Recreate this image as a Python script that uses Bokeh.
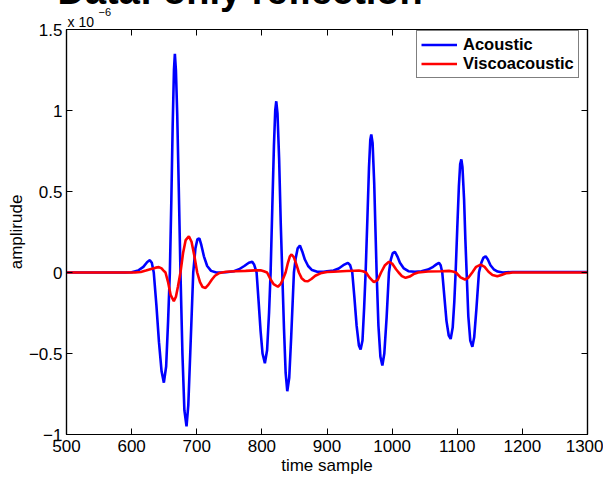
from bokeh.plotting import figure
from bokeh.models import (Range1d, FixedTicker, LinearAxis, Legend, LegendItem, Title)
from bokeh.embed import file_html
from bokeh.resources import INLINE

# ---- data (amplitude in units of 1e-6) ----
acoustic_t = [500, 590, 600, 610, 618, 624, 628, 631, 634, 638, 642, 646, 649.5, 653, 656, 658.7,
              661, 663, 665, 666.4, 668, 670, 672.5, 675, 678, 681, 684.3, 687, 690, 694.6, 698, 701,
              704, 707, 711, 716, 722, 730, 745, 757, 765, 773, 780, 785.2, 788, 791.9, 795, 798, 801,
              804.6, 808, 811, 813.4, 816, 818.5, 820.5, 822.1, 824, 826.5, 829, 831.3, 834, 836.5,
              839, 842, 845, 849.2, 852, 855, 858.4, 862, 866, 871, 877, 885, 895, 900, 910, 918, 925,
              932.1, 935.5, 938.8, 942, 945.5, 949, 951.6, 954.5, 957, 959.3, 962, 964.5, 966.5, 968,
              970, 972.5, 974.5, 976.2, 979, 982, 985, 988, 991.5, 995.1, 998, 1001, 1004.3, 1008,
              1012, 1018, 1025, 1035, 1045, 1055, 1063, 1068, 1071.9, 1074.5, 1077, 1080, 1083.5,
              1087, 1089.9, 1093, 1095.5, 1097.5, 1100, 1102.5, 1104.5, 1106.3, 1108, 1110.5, 1112.5,
              1114.4, 1117, 1120, 1123.2, 1126, 1129.5, 1133.3, 1137, 1140, 1143.6, 1147, 1151, 1156,
              1162, 1170, 1185, 1300]
acoustic_v = [0, 0, 0.002, 0.012, 0.035, 0.065, 0.076, 0.06, 0.0, -0.2, -0.43, -0.61, -0.68, -0.58,
              -0.3, 0.0, 0.45, 0.9, 1.25, 1.35, 1.25, 0.98, 0.5, 0.0, -0.5, -0.85, -0.95, -0.82, -0.5,
              0.0, 0.15, 0.205, 0.21, 0.17, 0.1, 0.04, 0.01, 0.0, 0.002, 0.008, 0.02, 0.04, 0.06, 0.066,
              0.05, 0.0, -0.18, -0.36, -0.5, -0.56, -0.48, -0.25, 0.0, 0.4, 0.78, 1.0, 1.057, 0.98, 0.7,
              0.3, 0.0, -0.35, -0.62, -0.733, -0.65, -0.4, 0.0, 0.09, 0.15, 0.167, 0.13, 0.08, 0.04,
              0.015, 0.005, 0.005, 0.008, 0.012, 0.025, 0.045, 0.06, 0.045, 0.0, -0.15, -0.33, -0.45,
              -0.475, -0.42, -0.22, 0.0, 0.33, 0.65, 0.82, 0.852, 0.8, 0.55, 0.25, 0.0, -0.33, -0.52,
              -0.574, -0.5, -0.28, 0.0, 0.08, 0.12, 0.128, 0.1, 0.06, 0.025, 0.008, 0.005, 0.008,
              0.018, 0.035, 0.05, 0.06, 0.045, 0.0, -0.14, -0.3, -0.39, -0.41, -0.34, -0.18, 0.0, 0.27,
              0.53, 0.67, 0.698, 0.65, 0.45, 0.2, 0.0, -0.27, -0.42, -0.459, -0.4, -0.22, 0.0, 0.06,
              0.09, 0.10, 0.08, 0.045, 0.02, 0.006, 0.0, 0.003, 0.003]

visco_t = [500, 605, 614, 622, 630, 637, 641.8, 646, 649, 652, 656, 660, 664.8, 668, 671, 675, 679,
           683, 687.9, 692, 696, 700.7, 705, 709, 713.5, 718, 723, 728, 735, 745, 760, 775, 790, 798,
           803, 808, 813, 818, 824.6, 829, 832, 836.4, 840, 843, 845.6, 849, 853, 856.8, 861, 866,
           870.7, 876, 882, 890, 900, 910, 930, 942, 949, 955, 960, 965, 972, 978, 983, 989, 995.1,
           1000, 1006, 1010, 1015, 1020.7, 1027, 1033, 1040, 1055, 1075, 1087.3, 1093, 1098, 1105,
           1111.8, 1117, 1123, 1129, 1135.9, 1142, 1148, 1154, 1161.5, 1168, 1175, 1185, 1300]
visco_v = [0, 0, 0.003, 0.012, 0.022, 0.03, 0.033, 0.025, 0.012, 0.0, -0.06, -0.14, -0.177, -0.15,
           -0.09, 0.0, 0.12, 0.2, 0.224, 0.19, 0.11, 0.0, -0.06, -0.09, -0.095, -0.075, -0.045, -0.02,
           -0.003, 0.005, 0.008, 0.01, 0.013, 0.014, 0.008, 0.0, -0.04, -0.072, -0.088, -0.07, -0.045,
           0.0, 0.06, 0.1, 0.111, 0.095, 0.05, 0.0, -0.035, -0.052, -0.054, -0.04, -0.02, -0.005,
           0.003, 0.005, 0.009, 0.011, 0.012, 0.008, 0.0, -0.03, -0.06, -0.045, 0.0, 0.045, 0.066,
           0.055, 0.02, 0.0, -0.022, -0.033, -0.025, -0.01, 0.0, 0.006, 0.008, 0.01, 0.006, 0.0,
           -0.03, -0.043, -0.033, 0.0, 0.035, 0.049, 0.035, 0.005, -0.015, -0.023, -0.015, -0.005,
           0.0, 0.0]

x_ticks = [500, 600, 700, 800, 900, 1000, 1100, 1200, 1300]
y_ticks = [-1, -0.5, 0, 0.5, 1, 1.5]
y_tick_labels = ["\u22121", "\u22120.5", "0", "0.5", "1", "1.5"]
series_names = ["Acoustic", "Viscoacoustic"]
title_text = "Data: only reflection"
exp_base = "x 10"
exp_power = "\u22126"

FONT = "Liberation Sans"
TITLE_DROP = 4
SHIFT = 35 - TITLE_DROP  # part of the canvas pushed above the window (title is cut off there)

p = figure(output_backend="svg", toolbar_location=None,
           x_range=Range1d(500, 1300), y_range=Range1d(-1, 1.5),
           frame_width=521, frame_height=405,
           min_border_left=66, min_border_right=16, min_border_top=0, min_border_bottom=42,
           x_axis_location=None, y_axis_location=None)
p.margin = (-SHIFT, 0, 0, 0)
p.grid.visible = False
p.outline_line_color = "black"
p.outline_line_width = 1.2
p.background_fill_color = "white"
p.border_fill_color = "white"

def style_axis(ax, labels=True):
    ax.major_tick_in = 6
    ax.major_tick_out = 0
    ax.minor_tick_in = 0
    ax.minor_tick_out = 0
    ax.axis_line_color = "black"
    ax.axis_line_width = 1.2
    ax.major_tick_line_color = "black"
    ax.major_tick_line_width = 1
    ax.major_label_text_font = FONT
    ax.major_label_text_font_size = "17px"
    ax.major_label_text_color = "black"
    ax.axis_label_text_font = FONT
    ax.axis_label_text_font_size = "17px"
    ax.axis_label_text_font_style = "normal"
    ax.axis_label_text_color = "black"
    if not labels:
        ax.major_label_text_font_size = "1px"
        ax.major_label_text_color = None
        ax.major_label_standoff = 0

xb = LinearAxis(ticker=FixedTicker(ticks=x_ticks), axis_label="time sample")
style_axis(xb)
xb.major_label_standoff = 5
xb.axis_label_standoff = 1
p.add_layout(xb, "below")

yl = LinearAxis(ticker=FixedTicker(ticks=y_ticks), axis_label="amplirude")
style_axis(yl)
yl.major_label_overrides = {t: s for t, s in zip(y_ticks, y_tick_labels)}
yl.major_label_standoff = 4
yl.axis_label_standoff = 0
p.add_layout(yl, "left")

xt = LinearAxis(ticker=FixedTicker(ticks=x_ticks))
style_axis(xt, labels=False)
p.add_layout(xt, "above")

yr = LinearAxis(ticker=FixedTicker(ticks=y_ticks))
style_axis(yr, labels=False)
p.add_layout(yr, "right")

t_base = Title(text=exp_base, align="left", offset=1, standoff=0,
               text_font=FONT, text_font_size="14px", text_font_style="normal", text_color="black")
t_pow = Title(text=exp_power, align="left", offset=32, standoff=-8,
              text_font=FONT, text_font_size="11px", text_font_style="normal", text_color="black")
t_main = Title(text=title_text, align="left", offset=-9, standoff=-TITLE_DROP,
               text_font=FONT, text_font_size="38px", text_font_style="bold", text_color="black")
p.add_layout(t_base, "above")
p.add_layout(t_pow, "above")
p.add_layout(t_main, "above")

r1 = p.line(acoustic_t, acoustic_v, line_color="#0000ff", line_width=2.6)
r2 = p.line(visco_t, visco_v, line_color="#ff0000", line_width=2.6)

legend = Legend(items=[LegendItem(label=series_names[0], renderers=[r1]),
                       LegendItem(label=series_names[1], renderers=[r2])],
                location=(350, 356), orientation="vertical",
                label_text_font=FONT, label_text_font_size="16.5px", label_text_font_style="bold",
                label_text_color="black",
                glyph_width=36, glyph_height=19, label_height=19, label_standoff=6,
                padding=4, spacing=0, margin=0,
                border_line_color="black", border_line_width=1.2,
                background_fill_color="white", background_fill_alpha=1)
p.add_layout(legend, "center")

open("out.html", "w").write(file_html(p, INLINE))
